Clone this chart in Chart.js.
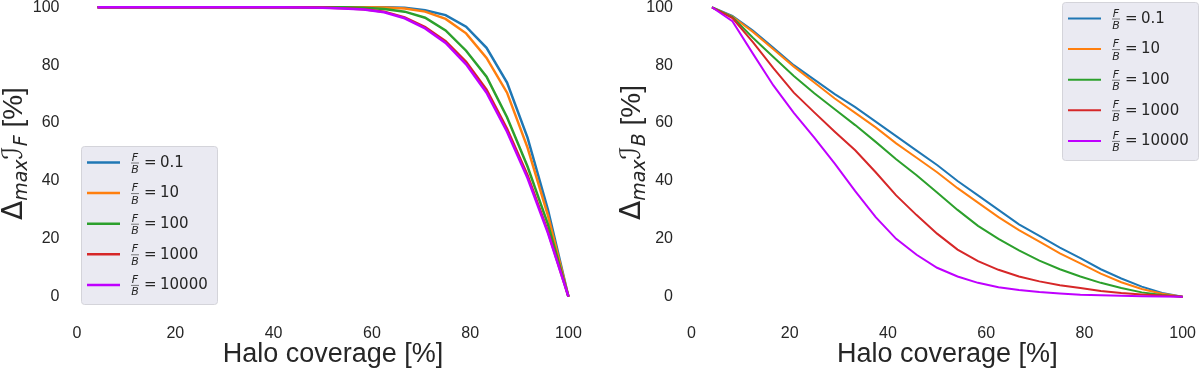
<!DOCTYPE html>
<html>
<head>
<meta charset="utf-8">
<script src="https://cdn.jsdelivr.net/npm/chart.js@4.4.0/dist/chart.umd.min.js"></script>
<style>
html, body { margin: 0; padding: 0; background: #fff; overflow: hidden; width: 1200px; height: 373px; }
.panel { position: absolute; top: 0; height: 373px; }
#left { left: 0; width: 600px; }
#right { left: 600px; width: 620px; }
</style>
</head>
<body>
<div class="panel" id="left"><canvas id="chartF" width="600" height="373"></canvas></div>
<div class="panel" id="right"><canvas id="chartB" width="620" height="373"></canvas></div>
<script>
// halo coverage [%] sampled along x
var coverage = [4.17, 8.33, 12.5, 16.67, 20.83, 25, 29.17, 33.33, 37.5, 41.67, 45.83, 50,
                54.17, 58.33, 62.5, 66.67, 70.83, 75, 79.17, 83.33, 87.5, 91.67, 95.83, 100];

var ratio_labels = ['0.1', '10', '100', '1000', '10000'];
var line_colors = ['#1f77b4', '#ff7f0e', '#2ca02c', '#d62728', '#bf00ff'];

var x_ticks = [0, 20, 40, 60, 80, 100];
var y_ticks = [0, 20, 40, 60, 80, 100];

// left panel: Delta_max I_F
var front_01    = [100, 100, 100, 100, 100, 100, 100, 100, 100, 100, 100, 100, 100, 100, 100, 99.8, 99, 97.3, 93.3, 86, 74, 55, 30, 0];
var front_10    = [100, 100, 100, 100, 100, 100, 100, 100, 100, 100, 100, 100, 100, 100, 99.9, 99.6, 98.5, 96, 91, 82.5, 70.5, 51.5, 28, 0];
var front_100   = [100, 100, 100, 100, 100, 100, 100, 100, 100, 100, 100, 100, 100, 99.8, 99.4, 98.5, 96.4, 92, 85, 76, 62, 45, 25, 0];
var front_1000  = [100, 100, 100, 100, 100, 100, 100, 100, 100, 100, 100, 99.9, 99.7, 99.3, 98.5, 96.5, 93.2, 88.3, 81.2, 71.5, 58, 42, 22.5, 0];
var front_10000 = [100, 100, 100, 100, 100, 100, 100, 100, 100, 100, 99.9, 99.8, 99.6, 99.2, 98.3, 96.2, 92.7, 87.7, 80.3, 70.5, 57, 41, 22, 0];

// right panel: Delta_max I_B
var back_01    = [100, 97, 92, 86, 80, 75, 70, 65.5, 60.5, 55.5, 50.5, 45.5, 40, 35, 30, 25, 21, 17, 13.3, 9.5, 6.3, 3.5, 1.3, 0];
var back_10    = [100, 96.8, 91.5, 85.5, 79.5, 74, 68.5, 63.5, 58.5, 53, 48, 43, 37.5, 32.5, 27.5, 23, 19, 15, 11.5, 8, 5, 2.7, 1, 0];
var back_100   = [100, 96.6, 89.5, 82.8, 76.3, 70.3, 64.8, 59.3, 53.5, 47.5, 42, 36, 30, 24.5, 20, 16, 12.5, 9.5, 7, 4.8, 3, 1.5, 0.6, 0];
var back_1000  = [100, 96.3, 88, 79, 70.5, 63.7, 57, 50.6, 43, 35, 28.2, 21.8, 16.3, 12.3, 9.3, 7, 5.3, 4, 3, 2, 1.3, 0.8, 0.4, 0];
var back_10000 = [100, 95.2, 84, 73, 63.5, 55, 46, 36.5, 27.5, 20, 14.5, 10, 7, 4.8, 3.3, 2.3, 1.6, 1.1, 0.7, 0.5, 0.3, 0.2, 0.1, 0];

var text_color = '#262626';

function make_datasets(series, width)
{
    return series.map(function(values, i) {
        return {
            label: 'F/B = ' + ratio_labels[i],
            data: values.map(function(v, j) { return {x: coverage[j], y: v}; }),
            borderColor: line_colors[i],
            backgroundColor: line_colors[i],
            borderWidth: width,
            pointRadius: 0,
            tension: 0,
            fill: false,
            order: series.length - i
        };
    });
}

function draw_ytitle(ctx, bx, sub)
{
    // rotated axis label with math-style subscripts
    ctx.save();
    ctx.translate(bx, 220);
    ctx.rotate(-Math.PI / 2);
    ctx.fillStyle = text_color;
    ctx.textAlign = 'left';
    ctx.textBaseline = 'alphabetic';
    var px = 0;
    function part(txt, font, dy) {
        ctx.font = font;
        ctx.fillText(txt, px, dy);
        px += ctx.measureText(txt).width;
    }
    part('\u0394', '28px "DejaVu Sans"', 0);
    part('max', 'italic 19px "DejaVu Sans"', 5);
    part('\u2110', '28px "DejaVu Sans"', 0);
    part(sub, 'italic 19px "DejaVu Sans"', 5);
    part(' [%]', '28px "Liberation Sans"', 0);
    ctx.restore();
}

function draw_legend(ctx, chart, lx, ly)
{
    var w = 136, h = 158;
    ctx.save();
    ctx.beginPath();
    ctx.roundRect(lx + 0.5, ly + 0.5, w, h, 3);
    ctx.fillStyle = '#eaeaf2';
    ctx.fill();
    ctx.strokeStyle = '#d4d4da';
    ctx.lineWidth = 1;
    ctx.stroke();
    chart.data.datasets.forEach(function(ds, i) {
        var cy = ly + 16.5 + i * 30.6;
        ctx.strokeStyle = ds.borderColor;
        ctx.lineWidth = ds.borderWidth;
        ctx.beginPath();
        ctx.moveTo(lx + 6, cy);
        ctx.lineTo(lx + 39, cy);
        ctx.stroke();
        // F over B
        ctx.fillStyle = text_color;
        ctx.textAlign = 'center';
        ctx.textBaseline = 'alphabetic';
        ctx.font = 'italic 11px "DejaVu Sans"';
        ctx.fillText('F', lx + 54, cy - 2);
        ctx.fillText('B', lx + 54, cy + 10.5);
        ctx.strokeStyle = text_color;
        ctx.lineWidth = 0.6;
        ctx.beginPath();
        ctx.moveTo(lx + 50, cy + 0.5);
        ctx.lineTo(lx + 58, cy + 0.5);
        ctx.stroke();
        ctx.textAlign = 'left';
        ctx.textBaseline = 'middle';
        ctx.font = '15px "DejaVu Sans"';
        ctx.fillText('=', lx + 63, cy + 0.5);
        ctx.fillText(ratio_labels[i], lx + 79, cy + 0.5);
    });
    ctx.restore();
}

var overlay_plugin = {
    id: 'overlay',
    afterDraw: function(chart, args, opts) {
        draw_ytitle(chart.ctx, opts.titleX, opts.sub);
        draw_legend(chart.ctx, chart, opts.legendX, opts.legendY);
    }
};

function make_chart(canvas_id, series, opts)
{
    return new Chart(document.getElementById(canvas_id), {
        type: 'line',
        data: { datasets: make_datasets(series, opts.lineWidth) },
        plugins: [overlay_plugin],
        options: {
            responsive: false,
            animation: false,
            layout: { padding: { left: 0, right: opts.padRight, top: 0, bottom: 0 } },
            scales: {
                x: {
                    type: 'linear',
                    min: -0.62,
                    max: 104.79,
                    grid: { display: false, drawTicks: false },
                    border: { display: false },
                    ticks: {
                        color: text_color,
                        font: { family: '"Liberation Sans"', size: 16 },
                        padding: 13
                    },
                    title: {
                        display: true,
                        text: 'Halo coverage [%]',
                        color: text_color,
                        font: { family: '"Liberation Sans"', size: 27 },
                        padding: { top: 0, bottom: 2 }
                    },
                    afterBuildTicks: function(s) { s.ticks = x_ticks.map(function(v) { return {value: v}; }); },
                    afterFit: function(s) { s.height = 61.8; s.paddingLeft = 0; s.paddingRight = 0; }
                },
                y: {
                    type: 'linear',
                    min: -5,
                    max: 102.52,
                    grid: { display: false, drawTicks: false },
                    border: { display: false },
                    ticks: {
                        color: text_color,
                        font: { family: '"Liberation Sans"', size: 16 },
                        padding: opts.yPad
                    },
                    afterBuildTicks: function(s) { s.ticks = y_ticks.map(function(v) { return {value: v}; }); },
                    afterFit: function(s) { s.width = opts.yWidth; s.paddingTop = 0; s.paddingBottom = 0; }
                }
            },
            plugins: {
                legend: { display: false },
                tooltip: { enabled: false },
                overlay: { titleX: opts.titleX, sub: opts.sub, legendX: opts.legendX, legendY: opts.legendY }
            }
        }
    });
}

make_chart('chartF', [front_01, front_10, front_100, front_1000, front_10000], {
    lineWidth: 2.5, padRight: 8, yWidth: 74, yPad: 14.5,
    titleX: 21.7, sub: 'F', legendX: 81, legendY: 146
});

make_chart('chartB', [back_01, back_10, back_100, back_1000, back_10000], {
    lineWidth: 2, padRight: 13.8, yWidth: 88.45, yPad: 15.5,
    titleX: 40, sub: 'B', legendX: 462, legendY: 2
});
</script>
</body>
</html>
